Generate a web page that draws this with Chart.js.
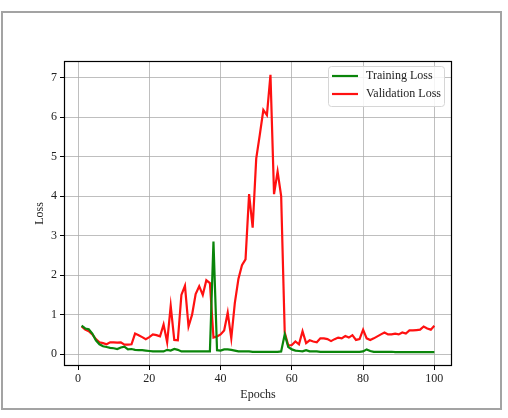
<!DOCTYPE html>
<html>
<head>
<meta charset="utf-8">
<script src="https://cdn.jsdelivr.net/npm/chart.js@4"></script>
<style>
  body { margin: 0; background: #fff; }
  #frame { position: absolute; left: 1px; top: 11px; width: 497px; height: 395px; border: 2px solid #a3a3a3; }
  #lossChart { position: absolute; left: 0; top: 0; }
</style>
</head>
<body>
<div id="frame"></div>
<canvas id="lossChart" width="508" height="418"></canvas>
<script>
const epochs = Array.from({ length: 100 }, (_, i) => i + 1);

const trainLoss = [
  0.72, 0.65, 0.63, 0.52, 0.35, 0.25, 0.20, 0.18, 0.16, 0.15,
  0.13, 0.17, 0.19, 0.12, 0.13, 0.11, 0.10, 0.10, 0.09, 0.08,
  0.07, 0.07, 0.07, 0.07, 0.11, 0.09, 0.13, 0.11, 0.07, 0.07,
  0.07, 0.07, 0.07, 0.07, 0.07, 0.07, 0.07, 2.85, 0.10, 0.09,
  0.12, 0.12, 0.11, 0.09, 0.07, 0.07, 0.07, 0.07, 0.06, 0.06,
  0.06, 0.06, 0.06, 0.06, 0.06, 0.06, 0.07, 0.50, 0.18, 0.12,
  0.09, 0.08, 0.07, 0.10, 0.07, 0.07, 0.07, 0.06, 0.06, 0.06,
  0.06, 0.06, 0.06, 0.06, 0.06, 0.06, 0.06, 0.06, 0.06, 0.07,
  0.12, 0.08, 0.06, 0.06, 0.06, 0.06, 0.06, 0.06, 0.05, 0.05,
  0.05, 0.05, 0.05, 0.05, 0.05, 0.05, 0.05, 0.05, 0.05, 0.05
];

const valLoss = [
  0.70, 0.62, 0.58, 0.50, 0.38, 0.30, 0.28, 0.25, 0.30, 0.30,
  0.29, 0.30, 0.24, 0.24, 0.25, 0.52, 0.48, 0.43, 0.38, 0.43,
  0.50, 0.48, 0.45, 0.75, 0.30, 1.22, 0.36, 0.35, 1.50, 1.73,
  0.70, 1.00, 1.52, 1.72, 1.50, 1.87, 1.80, 0.42, 0.45, 0.50,
  0.60, 1.05, 0.40, 1.30, 1.90, 2.25, 2.40, 4.05, 3.20, 4.95,
  5.55, 6.18, 6.05, 7.07, 4.05, 4.62, 4.00, 0.55, 0.22, 0.23,
  0.32, 0.25, 0.58, 0.28, 0.35, 0.32, 0.30, 0.40, 0.40, 0.38,
  0.33, 0.38, 0.42, 0.40, 0.46, 0.42, 0.48, 0.36, 0.38, 0.62,
  0.40, 0.36, 0.40, 0.45, 0.50, 0.55, 0.50, 0.50, 0.52, 0.50,
  0.55, 0.52, 0.60, 0.60, 0.61, 0.62, 0.70, 0.65, 0.62, 0.72
];

const xTicks = [0, 20, 40, 60, 80, 100];
const yTicks = [0, 1, 2, 3, 4, 5, 6, 7];

const serif = "'Liberation Serif', 'DejaVu Serif', serif";

// black box round the plot + legend in the upper right, matplotlib style
const boxAndLegend = {
  id: 'boxAndLegend',
  afterDraw(chart) {
    const { ctx, chartArea: a } = chart;
    ctx.save();
    ctx.strokeStyle = '#000';
    ctx.lineWidth = 1.2;
    ctx.strokeRect(a.left + 0.5, a.top + 0.5, a.right - a.left - 1, a.bottom - a.top - 1);

    const bx = a.right - 124, by = a.top + 5, bw = 116, bh = 40;
    ctx.fillStyle = 'rgba(255,255,255,0.85)';
    ctx.strokeStyle = '#d6d6d6';
    ctx.lineWidth = 1;
    ctx.beginPath();
    ctx.roundRect(bx + 0.5, by + 0.5, bw, bh, 3);
    ctx.fill();
    ctx.stroke();

    ctx.font = '12px ' + serif;
    ctx.textBaseline = 'middle';
    chart.data.datasets.forEach((ds, i) => {
      const y = by + 10 + i * 18;
      ctx.strokeStyle = ds.borderColor;
      ctx.lineWidth = 2.2;
      ctx.beginPath();
      ctx.moveTo(bx + 4, y);
      ctx.lineTo(bx + 30, y);
      ctx.stroke();
      ctx.fillStyle = '#222';
      ctx.fillText(ds.label, bx + 38, y);
    });
    ctx.restore();
  }
};

const ctx = document.getElementById('lossChart').getContext('2d');
new Chart(ctx, {
  type: 'line',
  data: {
    datasets: [
      {
        label: 'Training Loss',
        data: epochs.map((e, i) => ({ x: e, y: trainLoss[i] })),
        borderColor: '#0a850a',
        borderWidth: 2.2,
        pointRadius: 0,
        tension: 0
      },
      {
        label: 'Validation Loss',
        data: epochs.map((e, i) => ({ x: e, y: valLoss[i] })),
        borderColor: '#ff1111',
        borderWidth: 2.2,
        pointRadius: 0,
        tension: 0
      }
    ]
  },
  options: {
    responsive: false,
    animation: false,
    layout: { padding: { left: 0, right: 56, top: 61, bottom: 0 } },
    plugins: {
      legend: { display: false },
      tooltip: { enabled: false }
    },
    scales: {
      x: {
        type: 'linear',
        min: -3.95,
        max: 104.95,
        afterBuildTicks: s => { s.ticks = xTicks.map(v => ({ value: v })); },
        afterFit: s => { s.height = 52; },
        border: { display: false },
        grid: { color: 'rgba(170,170,170,0.75)', lineWidth: 1, tickColor: '#000', tickLength: 4 },
        ticks: { color: '#222', padding: 2, font: { family: serif, size: 12 }, maxRotation: 0 },
        title: { display: true, text: 'Epochs', color: '#222', padding: { top: 0, bottom: 16 }, font: { family: serif, size: 12 } }
      },
      y: {
        min: -0.30,
        max: 7.42,
        afterBuildTicks: s => { s.ticks = yTicks.map(v => ({ value: v })); },
        afterFit: s => { s.width = 64; },
        border: { display: false },
        grid: { color: 'rgba(170,170,170,0.75)', lineWidth: 1, tickColor: '#000', tickLength: 4 },
        ticks: { color: '#222', padding: 3, font: { family: serif, size: 12 } },
        title: { display: true, text: 'Loss', color: '#222', padding: { top: 33, bottom: 0 }, font: { family: serif, size: 12 } }
      }
    }
  },
  plugins: [boxAndLegend]
});
</script>
</body>
</html>
